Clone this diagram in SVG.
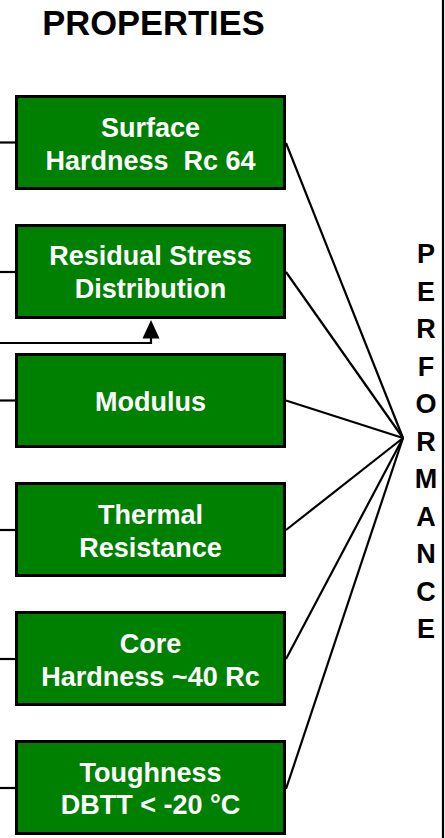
<svg xmlns="http://www.w3.org/2000/svg" width="445" height="838" viewBox="0 0 445 838">
<style>
.box{fill:#008000;stroke:#000;stroke-width:3}
.bt{font-family:"Liberation Sans",Arial,sans-serif;font-weight:bold;font-size:27px;fill:#fff;text-anchor:middle}
.ln{stroke:#000;stroke-width:2.2;fill:none}
.perf{font-family:"Liberation Sans",Arial,sans-serif;font-weight:bold;font-size:27px;fill:#000;text-anchor:middle}
.title{font-family:"Liberation Sans",Arial,sans-serif;font-weight:bold;font-size:34.5px;fill:#000;text-anchor:middle}
</style>
<rect width="445" height="838" fill="#fff"/>
<text id="title" class="title" x="153.5" y="35">PROPERTIES</text>
<g id="connectors">
<line class="ln" x1="443" y1="0" x2="443" y2="838" stroke-width="2.5"/>
<line class="ln" x1="0" y1="142.5" x2="16" y2="142.5"/>
<line class="ln" x1="0" y1="272" x2="16" y2="272"/>
<line class="ln" x1="0" y1="400.5" x2="16" y2="400.5"/>
<line class="ln" x1="0" y1="530" x2="16" y2="530"/>
<line class="ln" x1="0" y1="659" x2="16" y2="659"/>
<line class="ln" x1="0" y1="788" x2="16" y2="788"/>
<polyline class="ln" points="0,343 151,343 151,338" stroke-width="2.5"/>
<polygon points="142.5,338.5 159.5,338.5 151,320" fill="#000"/>
<line class="ln" x1="286" y1="143" x2="403" y2="438"/>
<line class="ln" x1="286" y1="272" x2="403" y2="438"/>
<line class="ln" x1="286" y1="400.5" x2="403" y2="438" stroke-width="2.6"/>
<line class="ln" x1="286" y1="530" x2="403" y2="438" stroke-width="2.6"/>
<line class="ln" x1="286" y1="659" x2="403" y2="438"/>
<line class="ln" x1="286" y1="789" x2="403" y2="438"/>
</g>
<g id="n1"><rect class="box" x="16.5" y="96.5" width="268" height="92"/>
<text class="bt" x="150.5" y="137">Surface</text>
<text class="bt" x="150.5" y="169.5" xml:space="preserve">Hardness  Rc 64</text></g>
<g id="n2"><rect class="box" x="16.5" y="225.5" width="268" height="92"/>
<text class="bt" x="150.5" y="265">Residual Stress</text>
<text class="bt" x="150.5" y="298">Distribution</text></g>
<g id="n3"><rect class="box" x="16.5" y="354.5" width="268" height="92"/>
<text class="bt" x="150.5" y="410.5">Modulus</text></g>
<g id="n4"><rect class="box" x="16.5" y="483.5" width="268" height="92"/>
<text class="bt" x="150.5" y="523.5">Thermal</text>
<text class="bt" x="150.5" y="556.5">Resistance</text></g>
<g id="n5"><rect class="box" x="16.5" y="612.5" width="268" height="92"/>
<text class="bt" x="150.5" y="653">Core</text>
<text class="bt" x="150.5" y="686">Hardness ~40 Rc</text></g>
<g id="n6"><rect class="box" x="16.5" y="741.5" width="268" height="92"/>
<text class="bt" x="150.5" y="781.5">Toughness</text>
<text class="bt" x="150.5" y="813.5">DBTT &lt; -20 °C</text></g>
<g id="performance">
<text class="perf" x="426" y="263">P</text>
<text class="perf" x="426" y="300.5">E</text>
<text class="perf" x="426" y="338">R</text>
<text class="perf" x="426" y="375.5">F</text>
<text class="perf" x="426" y="413">O</text>
<text class="perf" x="426" y="450.5">R</text>
<text class="perf" x="426" y="488">M</text>
<text class="perf" x="426" y="525.5">A</text>
<text class="perf" x="426" y="563">N</text>
<text class="perf" x="426" y="600.5">C</text>
<text class="perf" x="426" y="638">E</text>
</g>
</svg>
